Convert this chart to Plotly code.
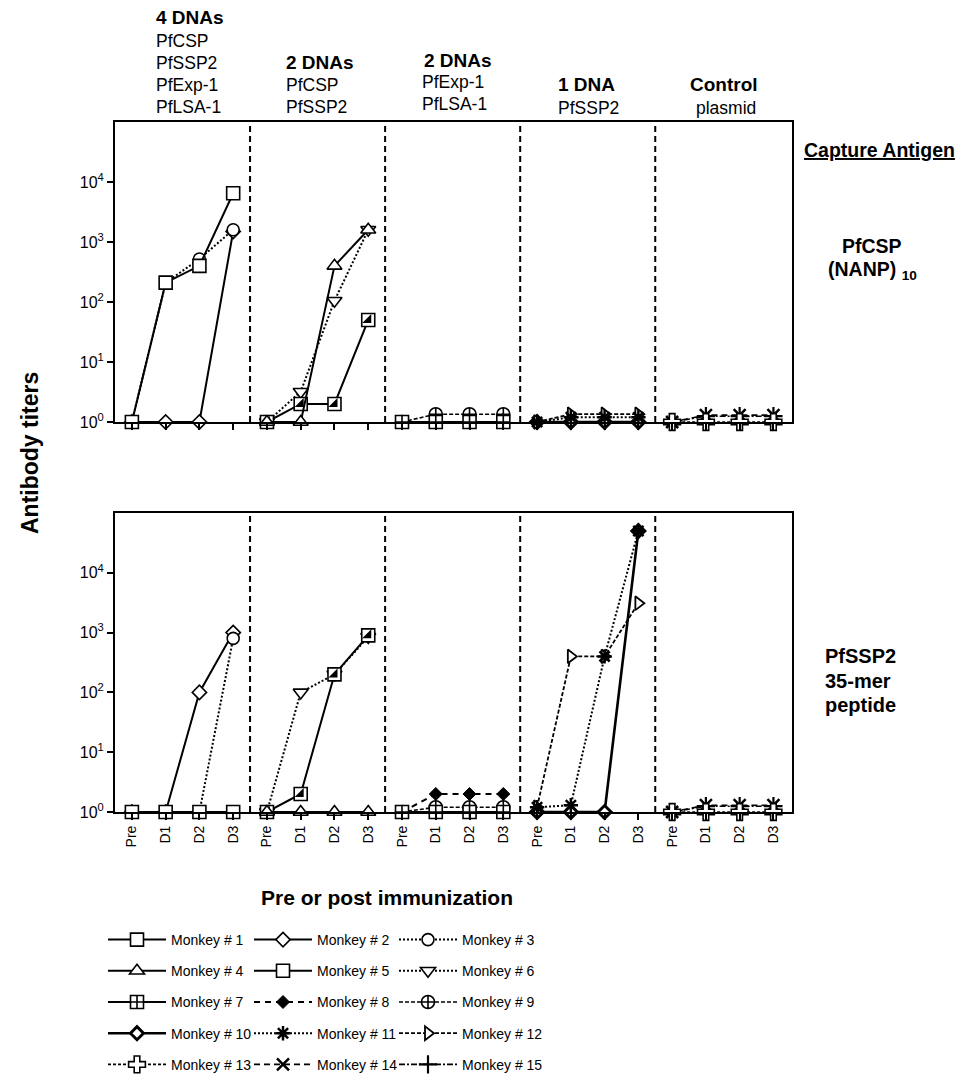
import plotly.graph_objects as go

# ---------------- data ----------------
time_points = ["Pre", "D1", "D2", "D3"]
group_names = ["4 DNAs", "2 DNAs", "2 DNAs", "1 DNA", "Control"]
monkey_labels = [f"Monkey # {i}" for i in range(1, 16)]
monkey_group = [0, 0, 0, 1, 1, 1, 2, 2, 2, 3, 3, 3, 4, 4, 4]
ytick_vals = [1, 10, 100, 1000, 10000]
ytick_text = ["10<sup>0</sup>", "10<sup>1</sup>", "10<sup>2</sup>", "10<sup>3</sup>", "10<sup>4</sup>"]

# Capture antigen PfCSP (NANP)10 : titers at Pre, D1, D2, D3
csp_m01 = [1, 210, 400, 6500]
csp_m02 = [1, 1, 1, 1500]
csp_m03 = [1, 210, 520, 1600]
csp_m04 = [1, 1, 400, 1600]
csp_m05 = [1, 2, 2, 50]
csp_m06 = [1, 3.2, 105, 1600]
csp_m07 = [1, 1, 1, 1]
csp_m08 = [1, 1, 1, 1]
csp_m09 = [1, 1.35, 1.35, 1.35]
csp_m10 = [1, 1, 1, 1]
csp_m11 = [1, 1.2, 1.2, 1.2]
csp_m12 = [1, 1.35, 1.35, 1.35]
csp_m13 = [1, 1, 1, 1]
csp_m14 = [1, 1.3, 1.3, 1.3]
csp_m15 = [1, 1.25, 1.25, 1.25]

# Capture antigen PfSSP2 35-mer peptide
ssp_m01 = [1, 1, 1, 1]
ssp_m02 = [1, 1, 100, 1000]
ssp_m03 = [1, 1, 1, 800]
ssp_m04 = [1, 1, 1, 1]
ssp_m05 = [1, 2, 200, 900]
ssp_m06 = [1, 100, 200, 850]
ssp_m07 = [1, 1, 1, 1]
ssp_m08 = [1, 2, 2, 2]
ssp_m09 = [1, 1.2, 1.2, 1.2]
ssp_m10 = [1, 1, 1, 50000]
ssp_m11 = [1.2, 1.3, 400, 50000]
ssp_m12 = [1.2, 400, 400, 3100]
ssp_m13 = [1, 1, 1, 1]
ssp_m14 = [1, 1.3, 1.3, 1.3]
ssp_m15 = [1, 1.25, 1.25, 1.25]

csp_values = [csp_m01, csp_m02, csp_m03, csp_m04, csp_m05, csp_m06, csp_m07, csp_m08,
              csp_m09, csp_m10, csp_m11, csp_m12, csp_m13, csp_m14, csp_m15]
ssp_values = [ssp_m01, ssp_m02, ssp_m03, ssp_m04, ssp_m05, ssp_m06, ssp_m07, ssp_m08,
              ssp_m09, ssp_m10, ssp_m11, ssp_m12, ssp_m13, ssp_m14, ssp_m15]

# ---------------- styles ----------------
symbols = ["square", "diamond", "circle", "triangle-up", "square", "triangle-down",
           "square-cross", "diamond", "circle-cross", "diamond", "asterisk-open",
           "triangle-right", "cross", "x-thin-open", "cross-thin-open"]
fills = ["white", "white", "white", "white", "white", "white", "white", "black",
         "white", "white", "black", "white", "white", "black", "black"]
dashes = ["solid", "solid", "2px,2px", "solid", "solid", "2px,2px", "solid", "6px,5px",
          "4px,2px", "solid", "2px,2px", "4px,2px", "3px,2px", "6px,4px", "6px,2px,2px,2px"]
line_widths = [2, 2, 2, 2, 2, 2, 2, 2, 1.6, 2.6, 2, 1.8, 1.6, 1.6, 1.6]
marker_sizes = [13, 11, 12, 13, 13, 13, 13, 10, 13, 10, 12, 12, 14, 12, 13]
marker_lw = [1.6, 1.6, 1.6, 1.6, 1.6, 1.6, 1.6, 1, 1.6, 3, 2.5, 1.8, 1.6, 2.5, 2.2]
# stacking order (first drawn = bottom), monkey numbers
draw_order = [15, 14, 13, 10, 12, 11, 9, 8, 7, 6, 5, 4, 2, 3, 1]

FONT = "Arial, Liberation Sans, Helvetica, sans-serif"
W, H = 969, 1076
L, R, T, B = 115, 792, 122, 812


def px(x):
    return (x - L) / (R - L)


def py(y):
    return (B - y) / (B - T)


fig = go.Figure()

panels = [("x", "y", csp_values, True), ("x2", "y2", ssp_values, False)]
legend_names = ["legend", "legend2", "legend3"]

for xa, ya, vals, show in panels:
    for num in draw_order:
        m = num - 1
        g = monkey_group[m]
        xs = [g * len(time_points) + t for t in range(len(time_points))]
        fig.add_trace(go.Scatter(
            x=xs, y=vals[m], xaxis=xa, yaxis=ya, mode="lines+markers",
            name=monkey_labels[m], legendgroup=f"m{num}", legendrank=num,
            legend=legend_names[m % 3], showlegend=show, cliponaxis=False,
            line=dict(color="black", width=line_widths[m], dash=dashes[m]),
            marker=dict(symbol=symbols[m], size=marker_sizes[m], color=fills[m],
                        line=dict(color="black", width=marker_lw[m])),
        ))
        if num == 5:  # half-filled square overlay for monkey 5
            fig.add_trace(go.Scatter(
                x=xs, y=vals[m], xaxis=xa, yaxis=ya, mode="markers",
                legendgroup="m5", showlegend=False, cliponaxis=False, hoverinfo="skip",
                marker=dict(symbol="triangle-se", size=10, color="black",
                            line=dict(width=0)),
            ))

n_pos = len(group_names) * len(time_points)
tickvals = list(range(n_pos))
ticktext = time_points * len(group_names)

axis_common = dict(showline=True, linecolor="black", linewidth=2, mirror=True,
                   showgrid=False, zeroline=False, ticks="outside", ticklen=6,
                   tickwidth=2, tickcolor="black")
top_dom = [py(422), 1.0]
bot_dom = [0.0, py(513)]

fig.update_layout(
    width=W, height=H, plot_bgcolor="white", paper_bgcolor="white",
    margin=dict(l=L, r=W - R, t=T, b=H - B, autoexpand=False),
    font=dict(family=FONT, color="black", size=14),
    xaxis=dict(domain=[0, 1], anchor="y", range=[-0.5, n_pos - 0.45],
               tickvals=tickvals, showticklabels=False, **axis_common),
    yaxis=dict(domain=top_dom, anchor="x", type="log", range=[0, 5],
               tickvals=ytick_vals, ticktext=ytick_text, tickfont=dict(size=16),
               **axis_common),
    xaxis2=dict(domain=[0, 1], anchor="y2", range=[-0.5, n_pos - 0.45],
                tickvals=tickvals, ticktext=ticktext, tickangle=-90,
                tickfont=dict(size=14), **axis_common),
    yaxis2=dict(domain=bot_dom, anchor="x2", type="log", range=[0, 5],
                tickvals=ytick_vals, ticktext=ytick_text, tickfont=dict(size=16),
                **axis_common),
    showlegend=True,
)

leg_common = dict(orientation="v", xref="container", yref="container", yanchor="top",
                  xanchor="left", traceorder="grouped", tracegroupgap=10,
                  font=dict(size=14, family=FONT), bgcolor="rgba(0,0,0,0)",
                  itemwidth=58, itemclick=False, itemdoubleclick=False)
fig.update_layout(
    legend=dict(x=103 / W, y=1 - 924 / H, **leg_common),
    legend2=dict(x=249 / W, y=1 - 924 / H, **leg_common),
    legend3=dict(x=394 / W, y=1 - 924 / H, **leg_common),
)

# vertical separators between groups
for ya in ["y", "y2"]:
    xa = "x" if ya == "y" else "x2"
    for g in range(1, len(group_names)):
        xpos = g * len(time_points) - 0.5
        fig.add_shape(type="line", xref=xa, yref=f"{ya} domain", x0=xpos, x1=xpos,
                      y0=0, y1=1, line=dict(color="black", width=2, dash="6px,4px"))

annos = []


def add_text(text, x, y, size=15, bold=False, xanchor="left", angle=0):
    t = f"<b>{text}</b>" if bold else text
    annos.append(dict(text=t, x=px(x), y=py(y), xref="paper", yref="paper",
                      xanchor=xanchor, yanchor="middle", showarrow=False,
                      textangle=angle, font=dict(size=size, family=FONT, color="black")))


HB, HR = 19, 17.5  # header bold / regular sizes
# group headers
add_text(group_names[0], 154, 18, HB, True)
for i, s in enumerate(["PfCSP", "PfSSP2", "PfExp-1", "PfLSA-1"]):
    add_text(s, 154, 41 + 22 * i, HR)
add_text(group_names[1], 284, 63, HB, True)
for i, s in enumerate(["PfCSP", "PfSSP2"]):
    add_text(s, 284, 85 + 22 * i, HR)
add_text(group_names[2], 422, 60, HB, True)
for i, s in enumerate(["PfExp-1", "PfLSA-1"]):
    add_text(s, 420, 82 + 22 * i, HR)
add_text(group_names[3], 586, 84, HB, True, "center")
add_text("PfSSP2", 588, 108, HR, False, "center")
add_text(group_names[4], 724, 84, HB, True, "center")
add_text("plasmid", 726, 108, HR, False, "center")

# right side labels
add_text("<u>Capture Antigen</u>", 802, 150, 19.5, True)
add_text("PfCSP", 872, 246, 19.5, True, "center")
add_text("(NANP) <sub>10</sub>", 826, 270, 19.5, True)
add_text("PfSSP2", 823, 656, 20, True)
add_text("35-mer", 823, 681, 20, True)
add_text("peptide", 823, 705, 20, True)

# axis titles
add_text("Antibody titers", 30, 453, 23, True, "center", -90)
add_text("Pre or post immunization", 387, 897, 21, True, "center")

fig.update_layout(annotations=annos)
fig.write_html("out.html")
